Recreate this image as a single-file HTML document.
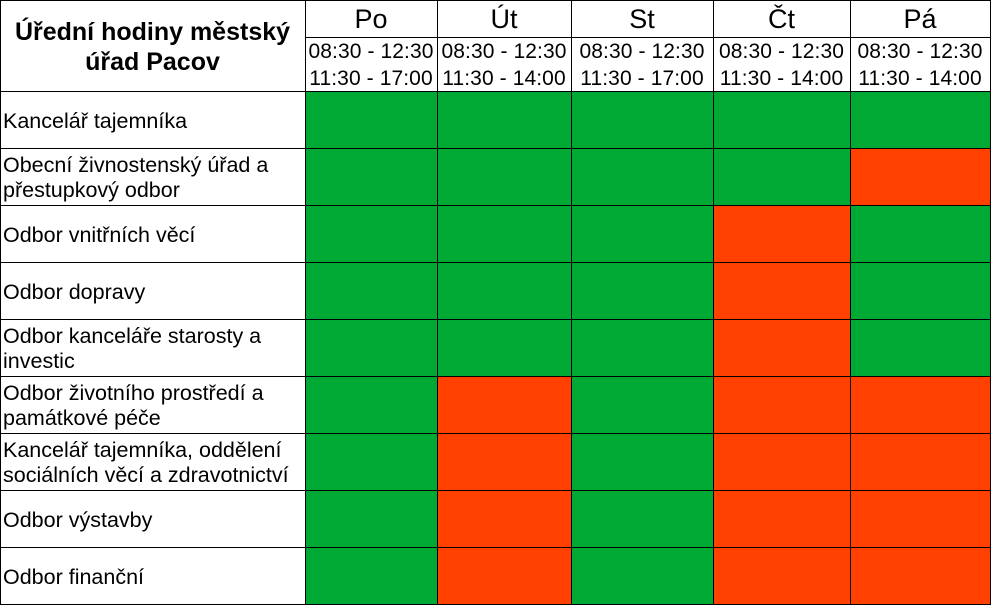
<!DOCTYPE html>
<html><head><meta charset="utf-8"><style>
body{margin:0;width:991px;height:605px;background:#fff;font-family:"Liberation Sans",sans-serif;position:relative;overflow:hidden}
.c{position:absolute;box-sizing:border-box}
.t{display:flex;align-items:center;justify-content:center;text-align:center}
.lab{display:flex;align-items:center;padding-left:3px;padding-top:3px;font-size:21.5px;line-height:25px;color:#000}
.ln{position:absolute;background:#000}
</style></head><body>
<script>
const days=["Po","Út","St","Čt","Pá"];
const hours1=["08:30 - 12:30","08:30 - 12:30","08:30 - 12:30","08:30 - 12:30","08:30 - 12:30"];
const hours2=["11:30 - 17:00","11:30 - 14:00","11:30 - 17:00","11:30 - 14:00","11:30 - 14:00"];
const departments=["Kancelář tajemníka","Obecní živnostenský úřad a přestupkový odbor","Odbor vnitřních věcí","Odbor dopravy","Odbor kanceláře starosty a investic","Odbor životního prostředí a památkové péče","Kancelář tajemníka, oddělení sociálních věcí a zdravotnictví","Odbor výstavby","Odbor finanční"];
const open=[[1,1,1,1,1],[1,1,1,1,0],[1,1,1,0,1],[1,1,1,0,1],[1,1,1,0,1],[1,0,1,0,0],[1,0,1,0,0],[1,0,1,0,0],[1,0,1,0,0]];
const colX=[0,305,437,571,713,850,990];
const rowY0=91,rowH=57,dayH=37;
const root=document.body;
function cell(x,y,w,h,cls){const d=document.createElement('div');d.className='c '+(cls||'');d.style.left=x+'px';d.style.top=y+'px';d.style.width=w+'px';d.style.height=h+'px';root.appendChild(d);return d;}
function line(x,y,w,h){const d=document.createElement('div');d.className='ln';d.style.left=x+'px';d.style.top=y+'px';d.style.width=w+'px';d.style.height=h+'px';


root.appendChild(d);}
let title=cell(0,0,colX[1],rowY0,'t');
title.style.fontWeight='bold';title.style.fontSize='25px';title.style.lineHeight='30px';title.style.paddingTop='2px';
title.innerHTML='Úřední hodiny městský<br>úřad Pacov';


days.forEach((d,i)=>{
 const x=colX[i+1],w=colX[i+2]-x;
 const h=cell(x,0,w,dayH,'t');h.style.fontSize='27px';h.style.paddingTop='2px';h.textContent=d;
 
 
 const t=cell(x,dayH,w,rowY0-dayH,'t');t.style.fontSize='21px';t.style.lineHeight='27px';t.style.whiteSpace='nowrap';t.style.letterSpacing='0.1px';t.style.paddingTop='2px';
 t.innerHTML=hours1[i]+'<br>'+hours2[i];
 
 
});
departments.forEach((dep,r)=>{
 const y=rowY0+r*rowH;
 const l=cell(0,y,colX[1],rowH,'lab');l.textContent=dep;
 
 
 open[r].forEach((v,i)=>{
  const x=colX[i+1];const c=cell(x,y,colX[i+2]-x,rowH);
  c.style.background=v?'#00a933':'#ff4000';
  
  
 });
});
colX.forEach(x=>line(x,0,1,605));
line(0,0,991,1);line(colX[1],dayH,991-colX[1],1);
for(let r=0;r<=departments.length;r++)line(0,rowY0+r*rowH,991,1);
</script>
</body></html>
